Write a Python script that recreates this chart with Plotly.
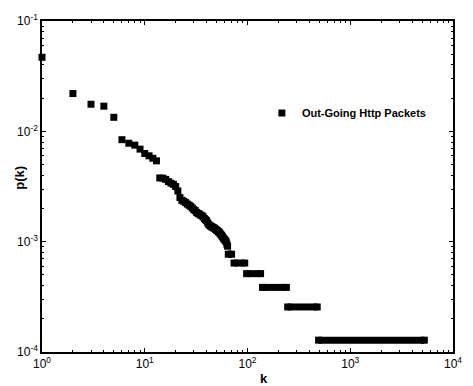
import plotly.graph_objects as go

# ---- data ----
k_points = list(range(1, 65))
p_points = [
    0.0469, 0.0220, 0.0176, 0.0169, 0.0134, 0.0084, 0.0078, 0.0075, 0.0069, 0.0063,
    0.0060, 0.0057, 0.0054, 0.00378, 0.00376, 0.00367, 0.00350, 0.00339, 0.00331, 0.00316,
    0.00288, 0.00251, 0.00237, 0.00232, 0.00226, 0.00219, 0.00214, 0.00209, 0.00202, 0.00195,
    0.00191, 0.00184, 0.00180, 0.00178, 0.00174, 0.00172, 0.00168, 0.00162, 0.00158, 0.00155,
    0.00148, 0.00143, 0.00140, 0.00138, 0.00136, 0.00135, 0.00133, 0.00132, 0.00129, 0.00127,
    0.00126, 0.00123, 0.00122, 0.00119, 0.00116, 0.00114, 0.00111, 0.00108, 0.00106, 0.00104,
    0.00102, 0.00100, 0.00095, 0.00091,
]
# plateaus of equal p(k) over runs of consecutive k
plateau_k_start = [65, 74, 98, 140, 246, 492]
plateau_k_end = [70, 94, 134, 239, 477, 5260]
plateau_p = [7.7e-4, 6.4e-4, 5.13e-4, 3.85e-4, 2.56e-4, 1.28e-4]

x_decades = [1, 10, 100, 1000, 10000]
x_ticktext = ["10<sup>0</sup>", "10<sup>1</sup>", "10<sup>2</sup>", "10<sup>3</sup>", "10<sup>4</sup>"]
y_decades = [1e-4, 1e-3, 1e-2, 1e-1]
y_ticktext = ["10<sup>-4</sup>", "10<sup>-3</sup>", "10<sup>-2</sup>", "10<sup>-1</sup>"]
minor_mult = [2, 3, 4, 5, 6, 7, 8, 9]

FONT = "Liberation Sans, Arial, Helvetica, sans-serif"
MS = 7

plx, ply = [], []
for a, b, p in zip(plateau_k_start, plateau_k_end, plateau_p):
    plx += [a, b, None]
    ply += [p, p, None]

fig = go.Figure()
fig.add_trace(go.Scatter(
    x=plx, y=ply, mode="lines+markers", showlegend=False, cliponaxis=False,
    line=dict(color="black", width=MS),
    marker=dict(symbol="square", size=MS, color="black"),
))
fig.add_trace(go.Scatter(
    x=k_points, y=p_points, mode="markers", name="<b>Out-Going Http Packets</b>",
    cliponaxis=False,
    marker=dict(symbol="square", size=MS, color="black"),
))

def axis_common(decades):
    minor_vals = [d * m for d in decades[:-1] for m in minor_mult]
    return dict(
        type="log", showgrid=False, zeroline=False,
        showline=True, linecolor="black", linewidth=1.5, mirror="ticks",
        ticks="inside", ticklen=4, tickwidth=1, tickcolor="black",
        minor=dict(tickmode="array", tickvals=minor_vals, ticks="inside",
                   ticklen=2, tickwidth=1, tickcolor="black", showgrid=False),
        tickfont=dict(family=FONT, size=12, color="black"),
        tickmode="array",
    )

fig.update_xaxes(range=[0, 4], tickvals=x_decades, ticktext=x_ticktext, **axis_common(x_decades))
fig.update_yaxes(range=[-4, -1], tickvals=y_decades, ticktext=y_ticktext, **axis_common(y_decades))

fig.update_layout(
    width=473, height=386,
    margin=dict(l=42, r=11, t=21, b=34),
    paper_bgcolor="white", plot_bgcolor="white",
    font=dict(family=FONT, color="black"),
    legend=dict(x=0.535, y=0.766, xanchor="left", yanchor="top",
                bgcolor="rgba(0,0,0,0)", font=dict(family=FONT, size=11, color="black")),
    annotations=[
        dict(text="<b>k</b>", x=0.540, y=-0.081, xref="paper", yref="paper",
             showarrow=False, font=dict(family=FONT, size=13, color="black"),
             xanchor="center", yanchor="middle"),
        dict(text="<b>p(k)</b>", x=-0.0548, y=0.528, xref="paper", yref="paper",
             showarrow=False, textangle=-90, font=dict(family=FONT, size=13, color="black"),
             xanchor="center", yanchor="middle"),
    ],
)
fig.write_html("out.html")
